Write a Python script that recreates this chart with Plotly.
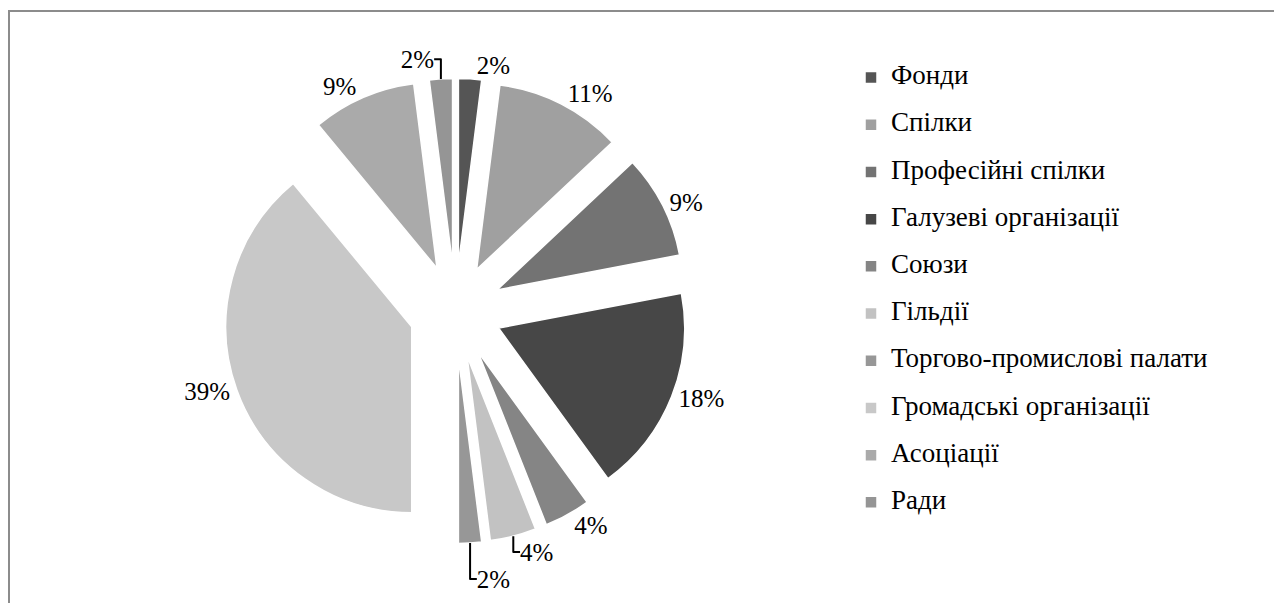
import plotly.graph_objects as go

# categories, shares (%) and slice greys, clockwise from 12 o'clock
categories = [
    "Фонди",
    "Спілки",
    "Професійні спілки",
    "Галузеві організації",
    "Союзи",
    "Гільдії",
    "Торгово-промислові палати",
    "Громадські організації",
    "Асоціації",
    "Ради",
]
shares = [2, 11, 9, 18, 4, 4, 2, 39, 9, 2]
greys = [
    "#555555", "#a0a0a0", "#737373", "#474747", "#858585",
    "#c2c2c2", "#979797", "#c8c8c8", "#aaaaaa", "#959595",
]

W, H = 1282, 603
SERIF = "Liberation Serif"

# legend spacing comes from the 17px legend font (two lines per entry),
# the visible text is bumped up through the span
legend_labels = [f"<span style='font-size:27px'>{c}</span><br> " for c in categories]

fig = go.Figure(
    go.Pie(
        labels=legend_labels,
        values=shares,
        sort=False,
        direction="clockwise",
        rotation=0,
        pull=0.25,
        marker=dict(colors=greys, line=dict(color="#ffffff", width=1.5)),
        textinfo="percent",
        texttemplate="%{percent:.0%}",
        textposition="outside",
        outsidetextfont=dict(family=SERIF, size=25, color="#000000"),
        domain=dict(x=[0.1677, 0.5304], y=[0.1119, 0.8831]),
        hovertemplate="%{label}: %{value}%<extra></extra>",
    )
)

fig.add_shape(
    type="rect", xref="paper", yref="paper",
    x0=1 / W, x1=1271 / W, y0=-0.05, y1=1 - 3 / H,
    line=dict(color="#8c8c8c", width=2), fillcolor="rgba(0,0,0,0)",
)

fig.update_layout(
    width=W,
    height=H,
    margin=dict(l=0, r=0, t=0, b=0, autoexpand=False),
    paper_bgcolor="#ffffff",
    plot_bgcolor="#ffffff",
    font=dict(family=SERIF, color="#000000"),
    showlegend=True,
    legend=dict(
        x=843 / W,
        xanchor="left",
        y=1 - 52 / H,
        yanchor="top",
        valign="top",
        bgcolor="rgba(0,0,0,0)",
        font=dict(family=SERIF, size=17, color="#000000"),
        traceorder="normal",
        maxheight=560,
    ),
)

fig.write_html("out.html")
